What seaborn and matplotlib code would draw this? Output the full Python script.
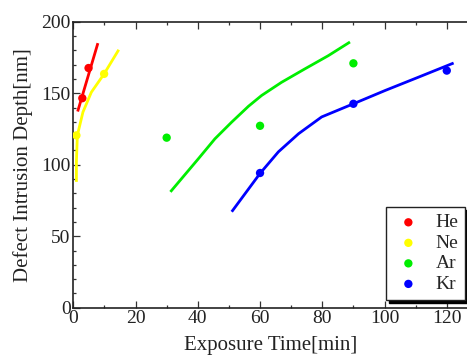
import numpy as np
import pandas as pd
import matplotlib
matplotlib.use("Agg")
import matplotlib.pyplot as plt
import seaborn as sns

# measured points
he_t = [2.9, 4.9]
he_d = [146.5, 167.6]
ne_t = [1.0, 9.9]
ne_d = [120.5, 163.5]
ar_t = [30.0, 60.0, 90.0]
ar_d = [118.9, 127.2, 170.9]
kr_t = [60.0, 90.0, 120.0]
kr_d = [94.2, 142.6, 165.8]

# fitted curves
he_fit_t = [1.4, 7.9]
he_fit_d = [137.2, 185.0]
ne_fit_t = [1.0, 1.0, 1.3, 3.1, 5.8, 9.9, 14.6]
ne_fit_d = [88.0, 102.0, 120.5, 136.8, 150.7, 163.5, 180.4]
ar_fit_t = [31.2, 40.2, 45.5, 50.9, 56.3, 60.5, 66.9, 74.4, 81.9, 88.9]
ar_fit_d = [81.0, 104.2, 118.1, 129.8, 140.9, 148.4, 157.6, 167.0, 176.2, 185.8]
kr_fit_t = [50.9, 60.0, 65.9, 72.4, 79.8, 90.0, 100.2, 110.9, 122.2]
kr_fit_d = [67.1, 93.9, 109.0, 121.7, 133.4, 142.6, 151.9, 161.2, 171.1]

gases = ["He", "Ne", "Ar", "Kr"]
colors = ["#ff0000", "#ffff00", "#00ee00", "#0000ff"]

sns.set_theme(style="white")
plt.rcParams["font.family"] = ["Liberation Serif", "DejaVu Serif"]

fig = plt.figure(figsize=(4.67, 3.57), dpi=100)
ax = fig.add_axes([73.3 / 467, 49.3 / 357, (467 - 73.3) / 467, 286 / 357])

pts = [(he_t, he_d), (ne_t, ne_d), (ar_t, ar_d), (kr_t, kr_d)]
fits = [(he_fit_t, he_fit_d), (ne_fit_t, ne_fit_d),
        (ar_fit_t, ar_fit_d), (kr_fit_t, kr_fit_d)]

for name, col, (ft, fd) in zip(gases, colors, fits):
    sns.lineplot(x=ft, y=fd, ax=ax, color=col, lw=2.0, sort=False,
                 estimator=None, legend=False,
                 solid_joinstyle="round", solid_capstyle="butt")

for name, col, (t, d) in zip(gases, colors, pts):
    sns.scatterplot(x=t, y=d, ax=ax, color=col, s=36, edgecolor="none",
                    label=name, zorder=5)

ax.set_xlim(0, 126.5)
ax.set_ylim(0, 200)
ax.set_xticks([0, 20, 40, 60, 80, 100, 120])
ax.set_xticks(np.arange(10, 130, 20), minor=True)
ax.set_yticks([0, 50, 100, 150, 200])
ax.set_yticks([v for v in range(0, 201, 10) if v % 50], minor=True)

ax.tick_params(which="both", direction="in", top=True, bottom=True,
               left=True, right=False, color="#333333", width=0.9,
               labelsize=14, pad=2, labelcolor="#222222")
ax.tick_params(which="major", length=5)
ax.tick_params(which="minor", length=2.5)

for side in ["left", "bottom", "top"]:
    ax.spines[side].set_color("#222222")
    ax.spines[side].set_linewidth(1.2)
ax.spines["right"].set_visible(False)

ax.set_xlabel("Exposure Time[min]", fontsize=15, color="#222222", labelpad=6)
ax.set_ylabel("Defect Intrusion Depth[nm]", fontsize=15, color="#222222",
              labelpad=6)

leg = ax.legend(loc="upper left", bbox_to_anchor=(386 / 467, 1 - 207 / 357),
                bbox_transform=fig.transFigure, fontsize=14, frameon=True,
                fancybox=False, shadow={"color": "black", "alpha": 1.0},
                framealpha=1, edgecolor="#222222", borderpad=0.35,
                labelspacing=0.15, handlelength=1.6, handletextpad=0.6,
                borderaxespad=0, markerscale=1.0)
leg.get_frame().set_linewidth(1.0)

fig.savefig("out.png", dpi=100)
